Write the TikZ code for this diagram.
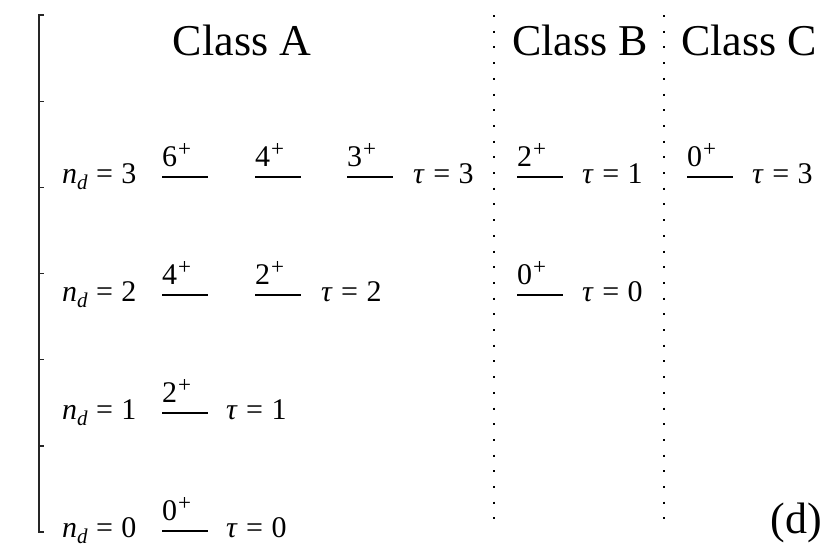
\documentclass[tikz,border=0pt]{standalone}
\usepackage{fontspec}
\setmainfont{Liberation Serif}
\newcommand{\ndlab}[1]{\textit{n}\raisebox{-0.22em}{\fontsize{21}{24}\selectfont\textit{d}}\hspace{0.28em}=\hspace{0.28em}#1}
\newcommand{\taulab}[1]{\textit{τ}\hspace{0.28em}=\hspace{0.28em}#1}
\newcommand{\jplab}[1]{#1\kern1pt\raisebox{10pt}{\fontsize{23}{26}\selectfont +}}
\begin{document}
\begin{tikzpicture}[x=1pt,y=-1pt,
  axisline/.style={line width=1.3pt, black!85},
  level/.style={line width=1.8pt},
  sepline/.style={line width=2pt, dash pattern=on 2pt off 13.7pt},
  mtext/.style={inner sep=0pt, anchor=base west, font=\fontsize{30}{34}\selectfont},
  title/.style={inner sep=0pt, anchor=base, font=\fontsize{44}{50}\selectfont}]
\useasboundingbox (0,0) rectangle (830,554);
% axis
\draw[axisline] (44,15) -- (39,15) -- (39,532) -- (44,532);
\foreach \k in {1,...,5} \draw[axisline] (39,15+86.17*\k) -- ++(5,0);
% separators
\draw[sepline] (494,15) -- (494,532);
\draw[sepline] (664,15) -- (664,532);
% titles
\node[title] (ca) at (242,55) {Class A};
\node[title] (cb) at (580,55) {Class B};
\node[title] (cc) at (749,55) {Class C};
\node[title, anchor=base east] (d) at (822,533) {(d)};
% row labels
\node[mtext] (n3) at (62,183) {\ndlab{3}};
\node[mtext] (n2) at (62,301) {\ndlab{2}};
\node[mtext] (n1) at (62,419) {\ndlab{1}};
\node[mtext] (n0) at (62,537) {\ndlab{0}};
% Class A levels
\draw[level] (162,177) -- (208,177);
\node[mtext] (a36) at (162,166) {\jplab{6}};
\draw[level] (255,177) -- (301,177);
\node[mtext] (a34) at (255,166) {\jplab{4}};
\draw[level] (347,177) -- (393,177);
\node[mtext] (a33) at (347,166) {\jplab{3}};
\node[mtext] (t3) at (413,183) {\taulab{3}};
\draw[level] (162,295) -- (208,295);
\node[mtext] (a24) at (162,284) {\jplab{4}};
\draw[level] (255,295) -- (301,295);
\node[mtext] (a22) at (255,284) {\jplab{2}};
\node[mtext] (t2) at (321,301) {\taulab{2}};
\draw[level] (162,413) -- (208,413);
\node[mtext] (a12) at (162,402) {\jplab{2}};
\node[mtext] (t1) at (226,419) {\taulab{1}};
\draw[level] (162,531) -- (208,531);
\node[mtext] (a00) at (162,520) {\jplab{0}};
\node[mtext] (t0) at (226,537) {\taulab{0}};
% Class B levels
\draw[level] (517,177) -- (563,177);
\node[mtext] (b2) at (517,166) {\jplab{2}};
\node[mtext] (tb1) at (582,183) {\taulab{1}};
\draw[level] (517,295) -- (563,295);
\node[mtext] (b0) at (517,284) {\jplab{0}};
\node[mtext] (tb0) at (582,301) {\taulab{0}};
% Class C level
\draw[level] (687,177) -- (733,177);
\node[mtext] (c0) at (687,166) {\jplab{0}};
\node[mtext] (tc3) at (752,183) {\taulab{3}};
\end{tikzpicture}
\end{document}
